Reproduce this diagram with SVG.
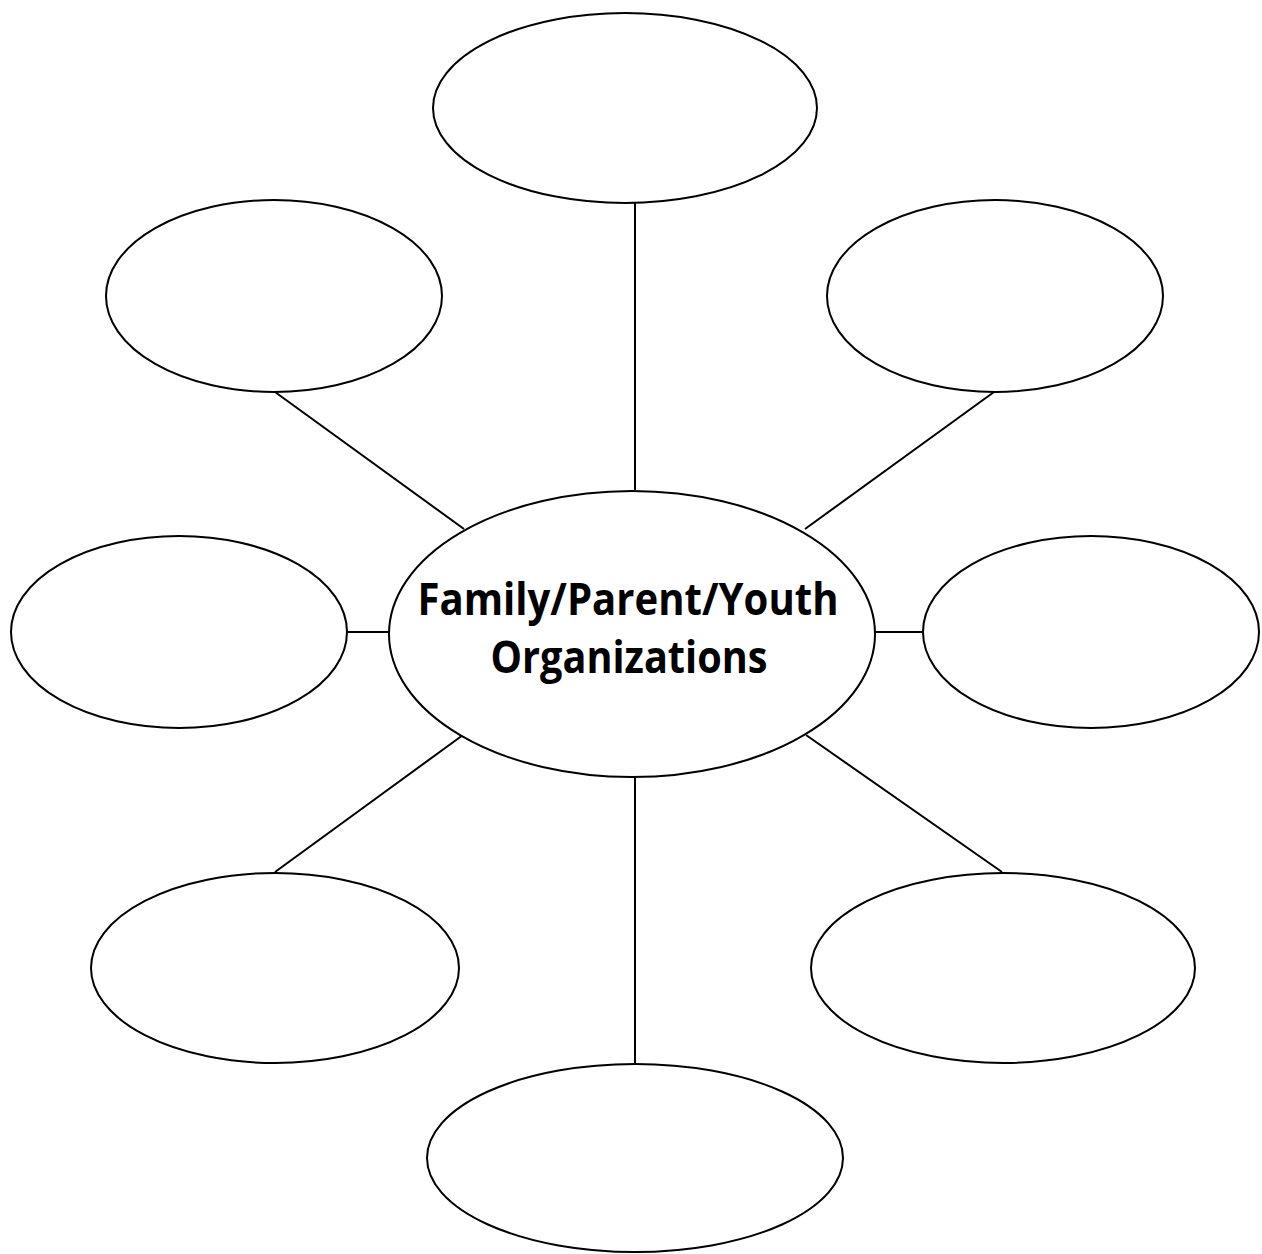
<svg xmlns="http://www.w3.org/2000/svg" width="1262" height="1254" viewBox="0 0 1262 1254">
<style>
.n{fill:#fff;stroke:#000;stroke-width:2}
.c line{stroke:#000;stroke-width:2}
.t{font-family:"Open Sans","Liberation Sans",sans-serif;font-weight:bold;font-size:45px;fill:#000;text-anchor:middle}
</style>
<rect width="1262" height="1254" fill="#fff"/>
<g id="connectors" class="c">
<line x1="635" y1="202" x2="635" y2="490"/>
<line x1="275" y1="392" x2="464" y2="529"/>
<line x1="994" y1="392" x2="805" y2="529"/>
<line x1="347" y1="632" x2="395" y2="632"/>
<line x1="874" y1="632" x2="923" y2="632"/>
<line x1="275" y1="872" x2="463" y2="735"/>
<line x1="1002" y1="872" x2="806" y2="735"/>
<line x1="635" y1="778" x2="635" y2="1064"/>
</g>
<g id="node-top"><ellipse class="n" cx="625" cy="108" rx="192" ry="95"/></g>
<g id="node-top-left"><ellipse class="n" cx="274" cy="296" rx="168" ry="96"/></g>
<g id="node-top-right"><ellipse class="n" cx="995" cy="296" rx="168" ry="96"/></g>
<g id="node-left"><ellipse class="n" cx="179" cy="632" rx="168" ry="96"/></g>
<g id="node-right"><ellipse class="n" cx="1091" cy="632" rx="168" ry="96"/></g>
<g id="node-bottom-left"><ellipse class="n" cx="275" cy="968" rx="184" ry="95"/></g>
<g id="node-bottom-right"><ellipse class="n" cx="1003" cy="968" rx="192" ry="95"/></g>
<g id="node-bottom"><ellipse class="n" cx="635" cy="1158" rx="208" ry="94"/></g>
<g id="node-center">
<ellipse class="n" cx="632" cy="634" rx="243" ry="143"/>
<text class="t" x="628" y="615" textLength="421" lengthAdjust="spacingAndGlyphs">Family/Parent/Youth</text>
<text class="t" x="629" y="673" textLength="277" lengthAdjust="spacingAndGlyphs">Organizations</text>
</g>
</svg>
